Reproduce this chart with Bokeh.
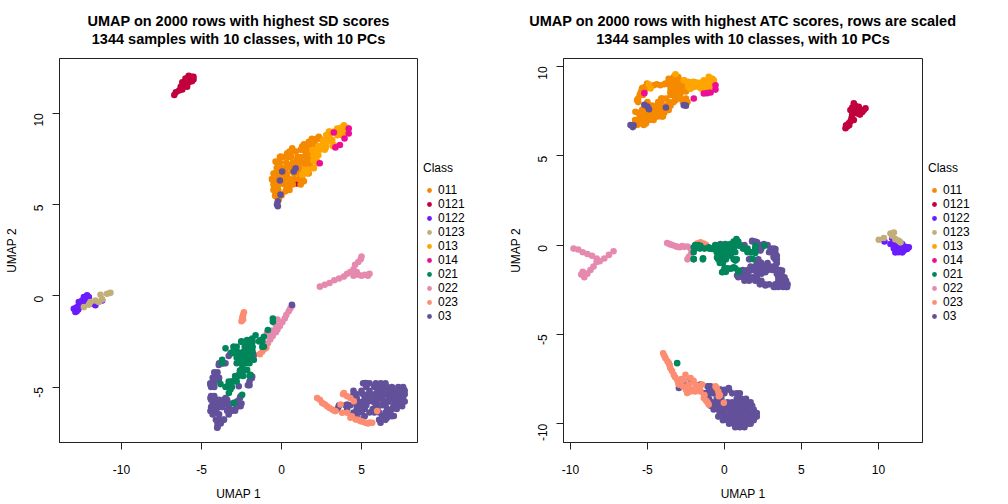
from bokeh.embed import file_html
from bokeh.layouts import row, column
from bokeh.models import Legend, LegendItem, Label, FixedTicker
from bokeh.plotting import figure
from bokeh.resources import INLINE
from math import pi

CLASSES = ["011", "0121", "0122", "0123", "013", "014", "021", "022", "023", "03"]
COLORS = {"011": "#F58A00", "0121": "#C1003D", "0122": "#6A1CFF", "0123": "#C2AE78", "013": "#FFA500",
          "014": "#EC0F96", "021": "#00865A", "022": "#E58AAE", "023": "#FC8D72", "03": "#62519A"}
DRAW_ORDER = ["0121", "011", "013", "022", "03", "023", "021", "014", "0122", "0123"]

SD = {
 "0121": [(-6.7,11.0),(-6.6,11.15),(-6.4,11.25),(-6.3,11.45),(-6.2,11.3),(-6.1,11.5),(-6.0,11.7),(-6.2,11.7),(-5.9,11.45),(-5.8,11.7),(-5.7,11.9),(-5.9,11.9),(-5.6,11.75),(-5.6,12.0),(-5.8,12.05),(-5.5,11.85),(-6.0,11.9),(-5.5,12.0),(.95,6.15)],
 "0122": [(-12.98,-.71),(-12.88,-.89),(-12.77,-.62),(-12.67,-.34),(-12.46,-.26),(-12.15,.02),(-12.04,-.07),(-12.35,-.07),(-11.63,-.52),(-11.21,-.26),(-11.83,-.43),(-12.7,-.75),(-12.5,-.55),(-12.3,-.2),(-12.9,-.7),(-12.8,-.85),(-12.6,-.6),(-12.4,-.4),(-12.6,-.4),(-12.2,-.1)],
 "0123": [(-12.35,-.62),(-11.94,-.34),(-11.63,-.26),(-11.31,.05),(-11.21,-.2),(-10.9,.11),(-10.69,.16),(-11.42,-.34),(-12.04,-.49)],
 "011": [(-.06,7.63),(-.37,7.35),(.35,7.81),(.67,8.08),(.56,7.63),(.98,7.44),(1.4,7.26),(1.6,7.63),(1.4,7.99),(1.71,8.44),(2.02,8.53),(2.33,8.71),(1.29,8.17),(1.92,7.44),(1.81,7.08),(1.6,6.72),(1.19,6.63),(.98,6.9),(.35,7.17),(-.06,6.9),(-.37,6.72),(-.58,6.36),(-.17,6.09),(.35,6.54),(.56,6.36),(.46,6.0),(-.37,5.81),(-.37,5.45),(-.17,5.27),(.04,6.18),(.67,6.81),(1.4,6.27),(1.19,6.54),(.25,5.72),(.15,6.99),
         (.5,7.9),(.7,7.9),(.9,7.9),(-.1,7.6),(.1,7.6),(.4,7.6),(.6,7.6),(1.0,7.6),(1.2,7.6),(1.5,7.6),(1.7,7.6),(-.3,7.3),(-.1,7.3),(.3,7.3),(.7,7.3),(1.0,7.3),(1.3,7.3),(1.5,7.3),(1.8,7.3),(-.3,7.0),(0,7.0),(.3,7.0),(.6,7.0),(1.1,7.0),(1.5,7.0),(1.8,7.0),(2.0,7.0),(-.5,6.7),(-.2,6.7),(.1,6.7),(.3,6.7),(.8,6.7),(1.2,6.7),(1.4,6.7),(1.7,6.7),(-.6,6.4),(-.3,6.4),(-.1,6.4),(.2,6.4),(.5,6.4),(.8,6.4),(1.1,6.4),(1.3,6.4),(-.5,6.1),(-.2,6.1),(.2,6.1),(.5,6.1),(.7,6.1),(1.2,6.1),(-.5,5.8),(-.2,5.8),(.3,5.8),(.5,5.8),(-.4,5.5),(-.2,5.5),(0,5.5),(1.2,8.0),(1.4,8.0),(1.6,8.0),(1.8,8.0),(2.0,8.0),(1.4,8.3),(1.6,8.3),(1.8,8.3),(2.1,8.3),(1.9,8.6),(2.2,8.6),(2.4,8.6),(1.5,7.7),(1.8,7.7),(2.0,7.7)],
 "013": [(3.9,9.34),(3.69,9.07),(4.1,9.16),(2.96,8.8),(2.75,8.53),(3.17,8.53),(2.54,8.26),(2.33,8.17),(2.75,8.08),(2.23,7.81),(3.27,8.26),(2.02,7.99),(2.23,7.26),(1.6,6.72),(1.29,6.63),(2.02,6.99),(3.79,8.89),(3.48,9.16),(1.92,7.99),(2.96,8.98),
         (3.7,9.2),(3.9,9.2),(4.1,9.2),(3.0,9.0),(3.3,9.0),(3.6,9.0),(3.9,9.0),(2.8,8.8),(3.0,8.8),(3.5,8.8),(3.8,8.8),(2.6,8.5),(2.9,8.5),(3.1,8.5),(2.3,8.2),(2.5,8.2),(2.8,8.2),(3.2,8.2),(3.4,8.2),(2.1,8.0),(2.4,8.0),(2.7,8.0),(2.0,7.7),(2.3,7.7),(2.0,7.4),(2.2,7.4),(1.7,6.9),(1.5,6.9),(1.4,6.7)],
 "014": [(3.27,8.95),(4.2,9.16),(4.2,8.89),(3.94,8.62),(3.37,8.13),(3.65,8.26),(2.39,7.26)],
 "03": [(-.23,4.9),(-.23,5.18),(-.28,5.0),(.88,6.99),(.77,6.81),(-.1,6.32),(.04,6.81),(-.06,5.54),(.65,-.5),
        (-3.19,-3.15),(-3.92,-3.79),(-3.6,-3.7),(-4.12,-4.24),(-4.23,-4.51),(-4.44,-4.87),(-4.33,-4.96),(-3.92,-4.6),(-2.04,-4.87),(-2.67,-4.96),(-1.83,-4.42),(-4.44,-5.6),(-4.44,-6.32),(-4.12,-5.69),(-3.81,-5.78),(-3.5,-5.6),(-3.71,-5.96),(-4.02,-6.14),(-4.23,-6.41),(-3.4,-5.78),(-3.92,-6.87),(-4.02,-7.23),(-3.6,-6.78),(-3.19,-6.32),(-2.56,-5.51),(-2.77,-5.78),(-2.56,-6.05),(-2.98,-6.23),(-1.73,-3.24),(-3.29,-6.14),
        (-3.3,-3.3),(-3.9,-3.7),(-3.7,-3.7),(-3.5,-3.7),(-4.2,-4.2),(-4.0,-4.2),(-4.3,-4.5),(-4.1,-4.5),(-3.9,-4.5),(-4.45,-4.8),(-4.2,-4.8),(-4.4,-5.0),(-4.2,-5.0),(-4.4,-5.5),(-4.2,-5.5),(-4.4,-5.7),(-4.2,-5.7),(-3.9,-5.7),(-3.6,-5.7),(-3.4,-5.7),(-4.3,-5.9),(-4.0,-5.9),(-3.8,-5.9),(-3.5,-5.9),(-3.3,-5.9),(-4.4,-6.1),(-4.1,-6.1),(-3.9,-6.1),(-3.7,-6.1),(-3.3,-6.1),(-2.8,-6.1),(-4.4,-6.3),(-4.1,-6.3),(-3.4,-6.3),(-3.1,-6.3),(-2.9,-6.3),(-4.3,-6.5),(-3.9,-6.5),(-3.3,-6.5),(-4.1,-6.8),(-3.9,-6.8),(-3.6,-6.8),(-4.0,-7.0),(-3.8,-7.0),(-4.0,-7.2),(-2.1,-4.9),(-2.0,-4.9),(-1.85,-4.5),(-2.0,-4.7),(-2.6,-5.6),(-2.7,-5.9),(-2.5,-5.9),
        (5.25,-4.78),(5.88,-4.87),(6.4,-4.87),(6.81,-5.05),(7.65,-5.14),(7.23,-5.42),(3.58,-6.05),(4.1,-5.96),(4.63,-6.41),(5.04,-6.78),(6.19,-6.96),(6.6,-6.68),(7.02,-6.59),(7.54,-6.05),
        (5.1,-4.8),(5.3,-4.8),(5.5,-4.8),(5.9,-4.8),(6.2,-4.8),(6.5,-4.8),(5.3,-5.0),(5.8,-5.0),(6.0,-5.0),(6.3,-5.0),(6.6,-5.0),(6.9,-5.0),(7.3,-5.0),(7.6,-5.0),(4.5,-5.2),(5.0,-5.2),(5.5,-5.2),(6.0,-5.2),(6.3,-5.2),(6.6,-5.2),(6.9,-5.2),(7.2,-5.2),(7.4,-5.2),(7.7,-5.2),(4.5,-5.4),(4.7,-5.4),(5.1,-5.4),(5.4,-5.4),(5.8,-5.4),(6.1,-5.4),(6.5,-5.4),(6.8,-5.4),(7.1,-5.4),(7.5,-5.4),(7.7,-5.4),(4.7,-5.6),(5.2,-5.6),(5.5,-5.6),(5.8,-5.6),(6.1,-5.6),(6.3,-5.6),(6.7,-5.6),(7.0,-5.6),(7.3,-5.6),(7.6,-5.6),(4.8,-5.8),(5.1,-5.8),(5.4,-5.8),(5.7,-5.8),(6.0,-5.8),(6.4,-5.8),(6.7,-5.8),(7.1,-5.8),(7.4,-5.8),(7.7,-5.8),(3.6,-6.0),(4.0,-6.0),(4.3,-6.0),(4.7,-6.0),(5.0,-6.0),(5.3,-6.0),(5.9,-6.0),(6.3,-6.0),(6.5,-6.0),(7.0,-6.0),(7.3,-6.0),(7.5,-6.0),(3.5,-6.2),(4.1,-6.2),(4.7,-6.2),(5.0,-6.2),(5.2,-6.2),(5.7,-6.2),(6.0,-6.2),(6.6,-6.2),(6.9,-6.2),(7.2,-6.2),(4.5,-6.4),(5.0,-6.4),(5.5,-6.4),(5.8,-6.4),(6.1,-6.4),(6.5,-6.4),(6.8,-6.4),(4.7,-6.6),(5.2,-6.6),(6.3,-6.6),(6.6,-6.6),(6.9,-6.6),(5.0,-6.8),(6.5,-6.8),(6.1,-6.8)],
 "022": [(.67,-.55),(.55,-.7),(.45,-.85),(.3,-1.05),(.2,-1.25),(.05,-1.45),(-.1,-1.65),(-.25,-1.85),(-.35,-1.6),(-.35,-2.0),(-.55,-1.9),(-.7,-1.95),(-.9,-2.0),(-.55,-2.2),(-.7,-2.4),(-.85,-2.6),(-.75,-2.15),(-.25,-1.3),
         (2.4,.5),(2.7,.6),(3.0,.7),(3.3,.85),(3.6,.95),(3.9,1.05),(4.1,1.2),(4.3,1.3),(4.5,1.45),(4.6,1.7),(4.8,1.85),(4.95,2.0),(5.0,2.15),(4.5,1.1),(4.8,1.15),(5.0,1.1),(5.2,1.15),(5.4,1.1),(5.5,1.2),(4.7,1.3)],
 "023": [(-2.35,-.9),(-2.4,-1.05),(-2.45,-1.2),(-2.5,-1.4),(-2.4,-1.3),(-1.35,-3.2),(-1.2,-3.05),(-1.05,-2.9),(-.95,-2.85),
         (2.23,-5.6),(2.54,-5.87),(2.85,-6.05),(3.17,-6.23),(3.38,-6.32),(3.9,-5.33),(4.1,-5.51),(4.52,-5.78),(3.69,-5.96),(3.79,-6.41),(4.1,-6.41),(4.31,-6.68),(4.63,-6.78),(4.94,-6.87),(5.25,-6.96),(5.67,-6.96),(5.98,-6.32),(2.4,-5.7),(2.7,-5.95),(3.0,-6.15),(3.3,-6.3),(4.3,-5.6),(3.85,-5.4),(4.4,-6.6),(4.8,-6.8),(5.1,-6.9),(5.4,-7.0),(5.5,-6.95)],
 "021": [(-.54,-1.25),(-.54,-1.43),(-.85,-1.88),(-1.62,-2.16),(-1.1,-2.25),(-1.31,-2.43),(-1.83,-2.34),(-2.15,-2.43),(-2.52,-2.52),(-3.5,-2.88),(-2.98,-2.79),(-2.87,-3.06),(-3.08,-3.15),(-2.15,-2.88),(-1.83,-2.97),(-2.04,-3.15),(-2.35,-3.06),(-1.1,-2.79),(-1.73,-3.51),(-2.15,-3.51),(-2.67,-3.6),(-2.25,-3.7),(-3.71,-3.51),(-2.46,-3.97),(-2.15,-4.06),(-2.67,-4.33),(-3.08,-4.69),(-1.94,-4.33),(-3.81,-4.84),(-3.4,-4.96),(-3.19,-5.14),(-3.29,-5.33),(-2.98,-5.87),(-2.46,-5.42),
         (-2.5,-2.5),(-2.2,-2.5),(-2.0,-2.5),(-1.8,-2.5),(-1.4,-2.5),(-1.2,-2.5),(-3.0,-2.8),(-2.8,-2.8),(-2.3,-2.8),(-2.1,-2.8),(-2.0,-2.8),(-1.8,-2.8),(-1.2,-2.8),(-3.1,-3.1),(-2.9,-3.1),(-2.7,-3.1),(-2.4,-3.1),(-2.2,-3.1),(-2.0,-3.1),(-1.8,-3.1),(-2.8,-3.4),(-2.5,-3.4),(-2.3,-3.4),(-2.1,-3.4),(-1.9,-3.4),(-2.8,-3.7),(-2.5,-3.7),(-2.3,-3.7),(-2.0,-3.7),(-3.7,-3.7),(-2.6,-4.1),(-2.3,-4.1),(-2.9,-4.4),(-2.7,-4.4),(-2.4,-4.4),(-2.0,-4.4),(-3.3,-4.7),(-3.0,-4.7),(-2.8,-4.7),(-3.3,-5.0),(-3.5,-5.0),(-3.1,-5.0)],
}

ATC = {
 "0121": [(7.86,6.54),(7.97,6.63),(8.07,6.81),(8.18,6.91),(8.4,7.0),(8.4,7.93),(8.18,7.56),(8.29,7.28),(8.61,7.37),(9.05,7.56),(9.16,7.65),(8.72,7.74),(8.5,7.65),(8.5,7.8),(8.4,7.5),(8.8,7.3),(8.95,7.45),(8.3,7.7),(8.35,7.4),(8.6,7.6),(8.1,6.7),(7.9,6.7),(8.25,7.1),(8.7,7.5)],
 "0122": [(10.39,.2),(10.89,.39),(10.78,.06),(11.1,-.04),(11.54,.06),(11.1,-.41),(11.54,-.41),(11.86,-.22),(11.97,-.13),(11.32,-.22),(11.65,-.31),(11.3,-.4),(11.0,-.2),(11.45,-.1),(11.75,-.1)],
 "0123": [(10.02,.3),(10.35,.39),(10.78,.65),(11.0,.7),(10.89,.52),(11.32,.24),(11.43,.15),(11.1,.33)],
 "011": [(-3.18,9.5),(-3.62,9.31),(-3.83,9.04),(-4.16,8.94),(-4.59,8.94),(-5.02,9.04),(-5.35,8.76),(-5.13,8.85),(-5.45,8.48),(-5.67,8.11),(-5.02,7.93),(-5.35,7.56),(-5.78,7.46),(-5.45,7.19),(-5.78,6.91),(-5.67,6.72),(-4.91,7.0),(-4.91,7.37),(-4.48,7.56),(-4.26,7.93),(-4.05,8.2),(-3.51,7.93),(-3.62,7.56),(-4.05,7.19),(-4.48,7.19),(-3.07,8.85),(-2.86,8.48),(-3.18,8.11),(-2.64,8.02),(-2.53,9.04),(-2.32,8.76),(-3.51,8.57),(-2.97,9.22),(-5.24,6.72),
         (-3.3,9.4),(-3.0,9.4),(-3.6,9.2),(-3.3,9.2),(-2.9,9.2),(-2.6,9.2),(-4.4,9.0),(-3.9,9.0),(-3.6,9.0),(-3.3,9.0),(-3.0,9.0),(-2.7,9.0),(-2.5,9.0),(-5.3,8.8),(-5.0,8.8),(-3.5,8.8),(-3.2,8.8),(-2.7,8.8),(-2.4,8.8),(-2.3,8.8),(-5.4,8.6),(-5.2,8.6),(-3.4,8.6),(-3.0,8.6),(-2.8,8.6),(-2.5,8.6),(-5.5,8.4),(-5.3,8.4),(-3.5,8.4),(-3.1,8.4),(-2.9,8.4),(-5.6,8.2),(-4.1,8.2),(-3.8,8.2),(-3.2,8.2),(-2.9,8.2),(-2.5,8.2),(-5.6,8.0),(-5.0,8.0),(-4.3,8.0),(-4.1,8.0),(-3.6,8.0),(-3.3,8.0),(-2.7,8.0),(-2.4,8.0),(-5.0,7.8),(-4.7,7.8),(-4.4,7.8),(-4.2,7.8),(-3.8,7.8),(-3.5,7.8),(-5.3,7.6),(-5.0,7.6),(-4.7,7.6),(-4.4,7.6),(-4.0,7.6),(-3.7,7.6),(-5.6,7.4),(-5.3,7.4),(-4.9,7.4),(-4.5,7.4),(-4.2,7.4),(-3.9,7.4),(-5.5,7.2),(-5.2,7.2),(-4.9,7.2),(-4.6,7.2),(-4.3,7.2),(-4.0,7.2),(-5.8,7.0),(-5.5,7.0),(-5.2,7.0),(-4.9,7.0),(-4.6,7.0),(-5.7,6.8),(-5.4,6.8),(-5.1,6.8)],
 "013": [(-3.18,9.56),(-4.91,9.0),(-2.64,9.22),(-2.34,9.13),(-2.0,9.13),(-1.67,9.04),(-1.34,9.22),(-1.02,9.41),(-.8,9.31),(-.69,9.22),(-1.02,9.04),(-1.34,8.85),(-1.67,8.85),(-2.0,8.85),(-.8,8.94),(-2.34,8.85),(-4.8,8.76),
         (-1.0,9.3),(-.8,9.3),(-2.4,9.1),(-2.1,9.1),(-1.8,9.1),(-1.5,9.1),(-1.2,9.1),(-.9,9.1),(-.7,9.1),(-2.2,8.9),(-1.9,8.9),(-1.6,8.9),(-1.3,8.9),(-1.0,8.9),(-.8,8.9),(-2.2,8.75),(-1.5,8.75),(-1.1,8.75)],
 "014": [(-1.99,8.2),(-.58,8.94),(-.58,8.7),(-.9,8.54),(-1.34,8.48),(-1.13,8.5),(-5.2,8.5),(11.1,.1)],
 "03": [(-5.9,6.7),(-5.95,6.6),(-6.1,6.72),(-3.8,7.7),(-5.2,7.85),(-4.9,7.6),(-5.0,7.75),(-2.64,7.83),(-2.5,7.8),
        (-.37,-.04),(-.26,.06),(1.8,.24),(2.12,.15),(2.56,.06),(2.99,-.31),(3.2,-.69),(3.31,-1.15),(2.77,-1.15),(2.23,-1.43),(1.69,-1.43),(1.15,-1.52),(.82,-1.7),(1.47,-1.89),(2.12,-1.98),(2.66,-2.26),(3.31,-2.35),(3.74,-2.26),(3.74,-1.8),(3.74,-1.43),(4.07,-2.35),(1.25,-.04),(2.12,-.96),(2.66,-1.52),(3.2,-1.33),(1.69,-.78),(3.31,-.22),(2.34,-.31),
        (1.8,.2),(2.0,.2),(2.3,0),(2.6,0),(2.8,0),(1.3,0),(3.0,-.2),(3.2,-.2),(2.4,-.2),(3.1,-.4),(3.3,-.4),(2.9,-.4),(3.2,-.6),(3.4,-.6),(2.2,-.8),(3.4,-.8),(3.3,-.8),(1.6,-.8),(2.1,-1.0),(2.4,-1.0),(3.4,-1.0),(2.8,-1.0),(2.0,-1.2),(2.3,-1.2),(2.6,-1.2),(3.0,-1.2),(3.3,-1.2),(1.7,-1.2),(1.2,-1.4),(1.5,-1.4),(1.9,-1.4),(2.5,-1.4),(2.8,-1.4),(3.1,-1.4),(3.6,-1.4),(.9,-1.6),(1.2,-1.6),(1.5,-1.6),(2.1,-1.6),(2.4,-1.6),(3.4,-1.6),(3.7,-1.6),(.9,-1.8),(1.2,-1.8),(1.8,-1.8),(2.1,-1.8),(3.5,-1.8),(3.9,-1.8),(1.3,-2.0),(1.6,-2.0),(2.0,-2.0),(2.4,-2.0),(3.5,-2.0),(3.8,-2.0),(4.0,-2.0),(2.3,-2.2),(2.6,-2.2),(2.9,-2.2),(3.3,-2.2),(3.6,-2.2),(3.9,-2.2),(4.1,-2.2),(3.2,-2.35),(3.5,-2.35),(3.8,-2.35),(4.0,-2.35),
        (-2.2,-7.5),(-2.96,-8.0),(-2.53,-7.81),(-1.56,-7.81),(-1.02,-7.91),(-1.34,-8.28),(-.26,-8.09),(.28,-8.0),
        (-1.1,-7.9),(-.9,-7.9),(-1.0,-8.1),(-.8,-8.1),(-.3,-8.1),(0,-8.1),(.3,-8.1),(-1.3,-8.3),(-1.0,-8.3),(-.7,-8.3),(-.3,-8.3),(0,-8.3),(.5,-8.3),(.8,-8.3),(1.0,-8.3),(-1.0,-8.6),(-.5,-8.6),(-.2,-8.6),(.8,-8.6),(1.1,-8.6),(1.4,-8.6),(-.8,-8.8),(-.5,-8.8),(-.2,-8.8),(.2,-8.8),(.5,-8.8),(.8,-8.8),(1.1,-8.8),(1.4,-8.8),(1.7,-8.8),(-.9,-9.0),(-.6,-9.0),(-.2,-9.0),(.1,-9.0),(.4,-9.0),(.7,-9.0),(1.0,-9.0),(1.3,-9.0),(1.6,-9.0),(1.8,-9.0),(-.7,-9.2),(-.4,-9.2),(-.1,-9.2),(.3,-9.2),(.6,-9.2),(.9,-9.2),(1.2,-9.2),(1.5,-9.2),(1.9,-9.2),(-.3,-9.4),(0,-9.4),(.4,-9.4),(.8,-9.4),(1.1,-9.4),(1.4,-9.4),(1.7,-9.4),(2.0,-9.4),(2.1,-9.4),(-.4,-9.6),(-.1,-9.6),(.2,-9.6),(.5,-9.6),(.8,-9.6),(1.2,-9.6),(1.6,-9.6),(1.9,-9.6),(2.1,-9.6),(-.1,-9.8),(.2,-9.8),(.6,-9.8),(.9,-9.8),(1.3,-9.8),(1.6,-9.8),(1.9,-9.8),(.3,-10.0),(.6,-10.0),(.9,-10.0),(1.2,-10.0),(1.5,-10.0),(1.7,-10.0),(.7,-10.2),(1.0,-10.2),(1.3,-10.2)],
 "022": [(-9.8,-.2),(-9.5,-.25),(-9.2,-.4),(-8.9,-.5),(-8.6,-.6),(-8.3,-.75),(-8.1,-.9),(-7.8,-.75),(-7.5,-.55),(-7.2,-.35),(-8.3,-.95),(-8.5,-1.2),(-8.7,-1.4),(-8.9,-1.6),(-9.1,-1.8),(-9.2,-1.5),(-9.3,-1.65),
         (-3.72,.11),(-3.55,.05),(-3.4,0),(-3.2,-.05),(-3.07,-.1),(-2.9,-.12),(-2.75,-.05),(-2.6,-.1),(-2.4,-.08),(-2.2,-.2),(-2.15,-.45),(-2.3,-.65),(-2.4,-.8)],
 "023": [(-1.75,.1),(-1.55,.15),(-1.35,.08),(-1.2,.02),
         (-3.98,-6.06),(-3.83,-6.33),(-3.61,-6.61),(-3.51,-6.89),(-3.29,-7.26),(-3.07,-7.54),(-2.96,-7.81),(-2.64,-7.54),(-2.53,-7.26),(-2.2,-7.44),(-2.31,-7.81),(-2.1,-8.09),(-1.88,-7.81),(-1.45,-7.81),(-1.56,-8.19),(-1.34,-8.56),(-1.02,-8.93),(-.58,-7.91),(-.37,-8.46),(-.04,-8.83),(-2.42,-8.28),
         (-3.9,-6.2),(-3.7,-6.5),(-3.55,-6.75),(-3.4,-7.05),(-3.2,-7.4),(-3.0,-7.7),(-2.8,-7.5),(-2.7,-7.9),(-2.4,-7.9),(-2.5,-8.1),(-2.2,-8.2),(-1.9,-8.2),(-2.0,-7.6),(-1.7,-7.9),(-1.6,-8.0),(-1.3,-8.4),(-1.2,-8.7),(-1.1,-8.8),(-.5,-8.0),(-.4,-8.2),(-.3,-8.4)],
 "021": [(-1.99,-.13),(-1.56,-.04),(-1.02,-.13),(-1.99,-.78),(-1.39,-.74),(-.8,-.22),(-.37,-.22),(.06,.06),(.39,.06),(.78,.33),(.93,-.04),(.5,-.41),(-.15,-.41),(-.48,-.69),(-.26,-.96),(.71,-.87),(.06,-1.33),(.39,-1.33),(.93,-1.43),(1.36,-.22),(1.69,-.41),(2.01,-.04),(2.6,-.04),(2.01,-.44),(1.84,-.78),(-.04,-.69),(.28,-.22),(.71,.06),(.06,-.13),(-.37,-.5),(.6,-1.24),(-.15,-1.52),
         (.6,.2),(.8,.2),(.9,.2),(-1.9,0),(-1.7,0),(-.6,0),(-.3,0),(0,0),(.2,0),(.4,0),(.5,0),(1.0,0),(-1.9,-.2),(-1.6,-.2),(-1.3,-.2),(-1.0,-.2),(-.8,-.2),(-.5,-.2),(-.2,-.2),(.1,-.2),(.4,-.2),(.6,-.2),(1.2,-.2),(1.5,-.2),(2.0,-.2),(-2.0,-.4),(-.5,-.4),(-.2,-.4),(0,-.4),(.3,-.4),(.7,-.4),(1.5,-.4),(1.8,-.4),(-.4,-.6),(-.2,-.6),(.1,-.6),(.4,-.6),(-2.0,-.8),(-1.4,-.8),(-.4,-.8),(-.1,-.8),(.1,-.8),(.6,-.8),(.8,-.8),(-.3,-1.0),(-.1,-1.0),(0,-1.3),(.2,-1.3),(.5,-1.3),(.7,-1.3),(-.1,-1.5),(.1,-1.5),(.9,-1.5),
         (-3.07,-6.61)],
}

TICK_TEXT = {-10: "-10", -5: "-5", 0: "0", 5: "5", 10: "10"}
PANELS = [
 dict(title1="UMAP on 2000 rows with highest SD scores", title2="1344 samples with 10 classes, with 10 PCs",
      data=SD, xr=(-13.875, 8.5), yr=(-8.04, 13.0), xticks=[-10, -5, 0, 5], yticks=[-5, 0, 5, 10],
      plot_w=418, legend_w=86, strip_w=504, title_cx=238),
 dict(title1="UMAP on 2000 rows with highest ATC scores, rows are scaled", title2="1344 samples with 10 classes, with 10 PCs",
      data=ATC, xr=(-10.45, 12.86), yr=(-11.05, 10.44), xticks=[-10, -5, 0, 5, 10], yticks=[-10, -5, 0, 5, 10],
      plot_w=419, legend_w=77, strip_w=496, title_cx=238.5),
]


def title_strip(panel):
    s = figure(width=panel["strip_w"], height=57, output_backend="svg", toolbar_location=None,
               x_axis_location=None, y_axis_location=None, min_border=0)
    s.frame_align = False
    s.grid.visible = False
    s.outline_line_color = None
    for txt, y in ((panel["title1"], 37), (panel["title2"], 19)):
        s.add_layout(Label(x=panel["title_cx"], y=y, x_units="screen", y_units="screen", text=txt,
                           text_align="center", text_baseline="middle", text_font="Liberation Sans",
                           text_font_size="14.5px", text_font_style="bold", text_color="#000000"))
    return s


def plot(panel):
    p = figure(width=panel["plot_w"], height=446, output_backend="svg", toolbar_location=None,
               x_range=panel["xr"], y_range=panel["yr"],
               min_border_left=59, min_border_top=1, min_border_bottom=58, min_border_right=1,
               x_axis_label="UMAP 1", y_axis_label="UMAP 2")
    p.frame_align = False
    p.grid.visible = False
    p.outline_line_color = "#222222"
    p.outline_line_width = 1
    p.xaxis.ticker = FixedTicker(ticks=panel["xticks"])
    p.yaxis.ticker = FixedTicker(ticks=panel["yticks"])
    for ax in (p.xaxis[0], p.yaxis[0]):
        ax.major_tick_out = 7
        ax.major_tick_in = 0
        ax.minor_tick_out = 0
        ax.minor_tick_in = 0
        ax.major_tick_line_color = "#222222"
        ax.axis_line_color = "#222222"
        ax.major_label_overrides = TICK_TEXT
        ax.major_label_text_font = "Liberation Sans"
        ax.major_label_text_font_size = "12px"
        ax.major_label_text_color = "#000000"
        ax.axis_label_text_font = "Liberation Sans"
        ax.axis_label_text_font_size = "12px"
        ax.axis_label_text_font_style = "normal"
        ax.axis_label_text_color = "#000000"
    p.yaxis[0].major_label_orientation = pi / 2
    p.xaxis[0].major_label_standoff = 15
    p.yaxis[0].major_label_standoff = 14
    p.xaxis[0].axis_label_standoff = 10
    p.yaxis[0].axis_label_standoff = 8
    for c in DRAW_ORDER:
        pts = panel["data"].get(c, [])
        p.scatter([a for a, _ in pts], [b for _, b in pts], size=6.6, color=COLORS[c], line_color=None, marker="circle")
    return p


def legend_fig(panel):
    f = figure(width=panel["legend_w"], height=446, output_backend="svg", toolbar_location=None,
               x_axis_location=None, y_axis_location=None, min_border=0, x_range=(0, 1), y_range=(0, 1))
    f.frame_align = False
    f.grid.visible = False
    f.outline_line_color = None
    items = []
    for c in CLASSES:
        r = f.scatter([-1], [-1], size=6, color=COLORS[c], line_color=None, marker="circle")
        items.append(LegendItem(label=c, renderers=[r]))
    leg = Legend(items=items, location=(5, 180), title="Class", border_line_color=None,
                 background_fill_alpha=0, padding=0, margin=0, spacing=0,
                 label_text_font="Liberation Sans", label_text_font_size="12px",
                 title_text_font="Liberation Sans", title_text_font_size="12px", title_text_font_style="normal",
                 title_text_color="#000000", label_text_color="#000000",
                 label_height=14, glyph_height=14, glyph_width=12, label_standoff=3, title_standoff=8)
    f.add_layout(leg)
    return f


layout = column(
    row(title_strip(PANELS[0]), title_strip(PANELS[1]), spacing=0),
    row(plot(PANELS[0]), legend_fig(PANELS[0]), plot(PANELS[1]), legend_fig(PANELS[1]), spacing=0),
    spacing=0,
)
html = file_html(layout, INLINE)
open("out.html", "w").write(html)
